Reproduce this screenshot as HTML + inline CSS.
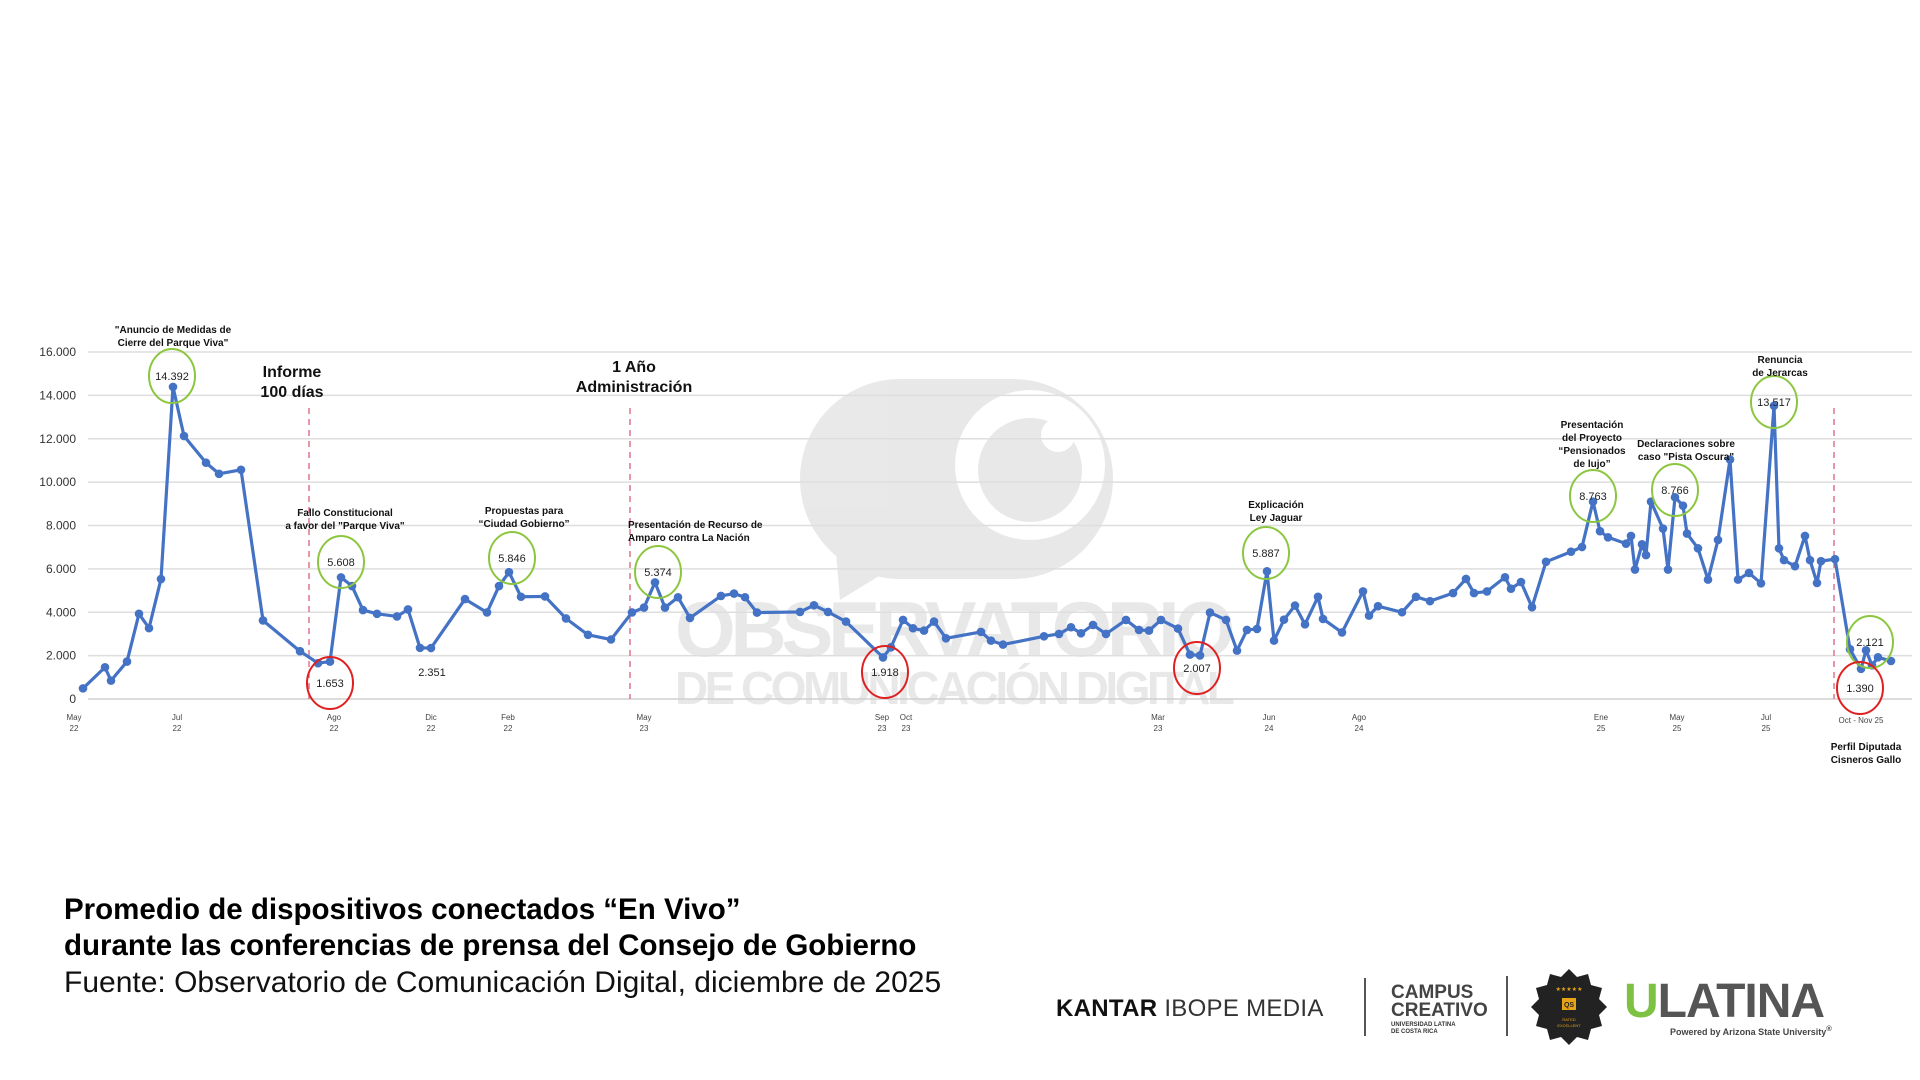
<!DOCTYPE html>
<html><head><meta charset="utf-8">
<style>
html,body{margin:0;padding:0;background:#fff;}
body{width:1920px;height:1080px;overflow:hidden;position:relative;font-family:"Liberation Sans",sans-serif;}
svg{position:absolute;left:0;top:0;}
.t{position:absolute;white-space:nowrap;}
</style></head>
<body>
<svg id="chart" width="1920" height="1080"></svg>

<div class="t" style="left:64px;top:893px;font-size:29.5px;font-weight:bold;color:#000;">Promedio de dispositivos conectados “En Vivo”</div>
<div class="t" style="left:64px;top:929px;font-size:29.5px;font-weight:bold;color:#000;">durante las conferencias de prensa del Consejo de Gobierno</div>
<div class="t" style="left:64px;top:966px;font-size:30px;color:#111;">Fuente: Observatorio de Comunicación Digital, diciembre de 2025</div>

<div class="t" style="left:1056px;top:995px;font-size:24px;letter-spacing:0.3px;color:#111;"><b>KANTAR</b> <span style="color:#333">IBOPE MEDIA</span></div>
<div style="position:absolute;left:1364px;top:978px;width:2px;height:58px;background:#555;"></div>
<div class="t" style="left:1391px;top:984px;line-height:18px;font-size:19px;font-weight:bold;color:#444;">CAMPUS<br>CREATIVO<div style="font-size:6px;line-height:7px;color:#333;margin-top:2px;">UNIVERSIDAD LATINA<br>DE COSTA RICA</div></div>
<div style="position:absolute;left:1506px;top:976px;width:2px;height:60px;background:#555;"></div>
<svg width="80" height="80" style="left:1529px;top:967px;" viewBox="0 0 80 80">
<polygon points="40,2 48,10 59,7 62,18 73,21 70,32 78,40 70,48 73,59 62,62 59,73 48,70 40,78 32,70 21,73 18,62 7,59 10,48 2,40 10,32 7,21 18,18 21,7 32,10" fill="#222"/>
<text x="40" y="24" font-size="6" fill="#e8a317" text-anchor="middle" font-family="Liberation Sans">★★★★★</text>
<rect x="33" y="31" width="14" height="12" fill="#e8a317"/>
<text x="40" y="40" font-size="7" fill="#222" text-anchor="middle" font-family="Liberation Sans" font-weight="bold">QS</text>
<text x="40" y="54" font-size="4" fill="#e8a317" text-anchor="middle" font-family="Liberation Sans">RATED</text>
<text x="40" y="60" font-size="4" fill="#e8a317" text-anchor="middle" font-family="Liberation Sans">EXCELLENT</text>
</svg>
<div class="t" style="left:1624px;top:976px;font-size:48px;font-weight:bold;letter-spacing:-1px;line-height:52px;"><span style="color:#7dc242">U</span><span style="color:#555">LATINA</span></div>
<div class="t" style="left:1670px;top:1024px;font-size:9px;font-weight:bold;color:#444;">Powered by Arizona State University<sup>®</sup></div>

<script>
// ---- chart data ----
const dayIdx = [0,22,28,44,56,66,78,90,101,123,136,158,180,217,235,247,258,269,280,294,314,325,337,348,382,404,416,426,438,462,483,505,528,549,
561,572,582,595,607,638,651,662,674,717,731,745,763,800,808,820,830,841,851,863,898,908,920,961,976,988,998,1010,1023,1043,1056,1066,1078,1095,1107,1117,1127,1143,1154,1164,1174,1184,1191,
1201,1212,1222,1235,1240,1259,1280,1286,1295,1319,1333,1347,1370,1383,1391,1404,1422,1428,1438,1449,1463,1488,1499,1510,1517,1525,1543,1548,1552,1559,1563,1568,1580,1585,1592,1600,1604,1615,1625,1635,1647,1655,1666,1678,1691,1696,1701,1712,1722,1727,1734,1738,1752,1767,1778,1783,1789,1795,1808];
const viewers = [490,1464,847,1726,3929,3267,5532,14392,12126,10894,10385,10570,3621,2203,1653,1726,5608,5208,4099,3929,3806,4130,2357,2351,4607,3991,5208,5846,4715,4730,3713,2958,2743,3991,
4215,5374,4215,4692,3738,4754,4862,4692,3985,4015,4323,4015,3569,1918,2385,3646,3262,3154,3569,2800,3092,2692,2508,2892,3000,3308,3031,3415,3000,3646,3185,3154,3646,3246,2046,2007,3985,3646,2231,3185,3231,5887,2692,
3659,4310,3442,4713,3690,3070,4961,3845,4279,4000,4713,4512,4884,5535,4884,4961,5612,5085,5395,4233,6326,6791,7008,9101,7736,7457,7163,7519,5969,7132,6636,9101,7860,5969,9302,8915,7628,6946,5504,7333,11039,5504,5814,5333,13517,6946,6403,6124,7519,6403,5349,6357,6450,2295,1390,2248,1550,1922,1752];
const yTicks = [0,2000,4000,6000,8000,10000,12000,14000,16000];
const yTickLabels = ["0","2.000","4.000","6.000","8.000","10.000","12.000","14.000","16.000"];
const xLabelDays = [-9,94,251,348,425,561,799,823,1075,1186,1276,1518,1594,1683];
const xLabelTop = ["May","Jul","Ago","Dic","Feb","May","Sep","Oct","Mar","Jun","Ago","Ene","May","Jul"];
const xLabelBottom = ["22","22","22","22","22","23","23","23","23","24","24","25","25","25"];
const eventDays = [226,547,1751];

const NS = "http://www.w3.org/2000/svg";
const svg = document.getElementById('chart');
const X0=83, X1=1891, Y0=699, Y1=352;
function xs(d){ return X0 + (d-0)/(1808-0)*(X1-X0); }
function ys(v){ return Y0 - v/16000*(Y0-Y1); }
function mk(tag, attrs, parent){ const e=document.createElementNS(NS,tag); for(const k in attrs) e.setAttribute(k,attrs[k]); (parent||svg).appendChild(e); return e; }
function txt(x,y,s,size,opts){ const e=mk('text',Object.assign({x:x,y:y,'font-size':size,'font-family':'"Liberation Sans", sans-serif',fill:'#222'},opts||{})); e.textContent=s; return e; }

// watermark
const wm = mk('g',{opacity:'0.13'});


mk('rect',{x:800,y:379,width:313,height:200,rx:100,fill:'#555'},wm);
mk('polygon',{points:'835,540 905,560 840,600',fill:'#555'},wm);
mk('circle',{cx:1030,cy:465,r:75,fill:'#fff'},wm);
mk('circle',{cx:1030,cy:470,r:52,fill:'#555'},wm);
mk('circle',{cx:1058,cy:435,r:17,fill:'#fff'},wm);
const w1=txt(955,656,'OBSERVATORIO',78,{'text-anchor':'middle','font-weight':'bold',fill:'#555'});
w1.setAttribute('textLength','560'); wm.appendChild(w1);
const w2=txt(955,704,'DE COMUNICACIÓN DIGITAL',46,{'text-anchor':'middle','font-weight':'bold',fill:'#555'});
w2.setAttribute('textLength','560'); wm.appendChild(w2);

// gridlines & y labels
yTicks.forEach((v,i)=>{
  const g=mk('line',{x1:88,x2:1912,y1:ys(v),y2:ys(v),stroke:i===0?'#d0d0d0':'#dedede','stroke-width':1.5});
  
  
  const t=txt(76,ys(v)+4,yTickLabels[i],12,{'text-anchor':'end',fill:'#333'});
  
  
});
// x labels
xLabelDays.forEach((d,i)=>{
  const t=txt(xs(d),720,xLabelTop[i],8,{'text-anchor':'middle',fill:'#444'});
  
  
  const b=txt(xs(d),731,xLabelBottom[i],8,{'text-anchor':'middle',fill:'#444'});
  
  
});
const on=txt(1861,723,'Oct - Nov 25',8,{'text-anchor':'middle',fill:'#444'});



// event lines
eventDays.forEach(d=>{
  const l=mk('line',{x1:xs(d),x2:xs(d),y1:408,y2:699,stroke:'#d9607a','stroke-width':1.3,'stroke-dasharray':'6,5'});
  
  
});

// series
const pts = dayIdx.map((d,i)=>xs(d)+','+ys(viewers[i])).join(' ');
const line=mk('polyline',{points:pts,fill:'none',stroke:'#4472C4','stroke-width':3.2,'stroke-linejoin':'round'});


dayIdx.forEach((d,i)=>{
  const c=mk('circle',{cx:xs(d),cy:ys(viewers[i]),r:4.3,fill:'#4472C4'});
  
  
});

// annotations
function circ(cx,cy,rx,ry,color,label,name){
  const e=mk('ellipse',{cx:cx,cy:cy,rx:rx,ry:ry,fill:'none',stroke:color,'stroke-width':2});
  
  
  const t=txt(cx,cy+4,label,11,{'text-anchor':'middle',fill:'#222'});
  
  
}
circ(172,376,23,27,'#8cc63f','14.392','peak-highlight');
circ(341,562,23,26,'#8cc63f','5.608','peak-highlight');
circ(330,683,23,26,'#e02020','1.653','low-highlight');
circ(512,558,23,26,'#8cc63f','5.846','peak-highlight');
circ(658,572,23,26,'#8cc63f','5.374','peak-highlight');
circ(885,672,23,26,'#e02020','1.918','low-highlight');
circ(1197,668,23,26,'#e02020','2.007','low-highlight');
circ(1266,553,23,26,'#8cc63f','5.887','peak-highlight');
circ(1593,496,23,26,'#8cc63f','8.763','peak-highlight');
circ(1675,490,23,26,'#8cc63f','8.766','peak-highlight');
circ(1774,402,23,26,'#8cc63f','13.517','peak-highlight');
circ(1870,642,23,26,'#8cc63f','2.121','peak-highlight');
circ(1860,688,23,26,'#e02020','1.390','low-highlight');
const l2=txt(432,676,'2.351',11,{'text-anchor':'middle'});



function note(x,y,lines,size,anchor,name,lh){
  lines.forEach((s,i)=>{
    const t=txt(x,y+i*(lh||13),s,size,{'text-anchor':anchor,'font-weight':'bold','font-family':'"Liberation Sans Narrow","Liberation Sans",sans-serif',fill:'#111'});
    
    
  });
}
note(173,333,['"Anuncio de Medidas de','Cierre del Parque Viva"'],10,'middle','annotation-parque-viva');
note(292,377,['Informe','100 días'],16,'middle','annotation-informe-100-dias',20);
note(634,372,['1 Año','Administración'],16,'middle','annotation-1-ano',20);
note(345,516,['Fallo Constitucional','a favor del "Parque Viva"'],10,'middle','annotation-fallo');
note(524,514,['Propuestas  para','“Ciudad Gobierno”'],10,'middle','annotation-ciudad-gobierno');
note(628,528,['Presentación de Recurso de','Amparo contra La Nación'],10,'start','annotation-amparo');
note(1276,508,['Explicación','Ley Jaguar'],10,'middle','annotation-ley-jaguar');
note(1592,428,['Presentación','del Proyecto','“Pensionados','de lujo”'],10,'middle','annotation-pensionados');
note(1686,447,['Declaraciones sobre','caso "Pista Oscura"'],10,'middle','annotation-pista-oscura');
note(1780,363,['Renuncia','de Jerarcas'],10,'middle','annotation-renuncia');
note(1866,750,['Perfil Diputada','Cisneros Gallo'],10,'middle','annotation-perfil-diputada');
</script>
</body></html>
